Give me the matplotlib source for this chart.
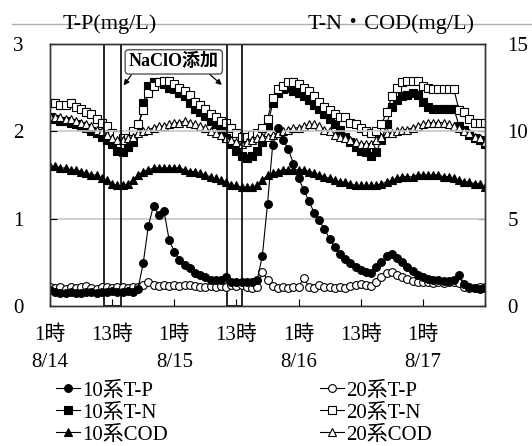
import matplotlib.pyplot as plt
import numpy as np
from matplotlib.lines import Line2D

plt.rcParams['font.family'] = ['Liberation Serif', 'Noto Sans CJK JP']

# hourly samples, 8/14 1:00 -> 8/17 13:00
hours = np.arange(85)

tp10 = [0.18, 0.16, 0.15, 0.15, 0.16, 0.15, 0.15, 0.16, 0.16, 0.15, 0.16, 0.16, 0.17, 0.16, 0.16, 0.17, 0.16, 0.2,
        0.49, 0.92, 1.15, 1.04, 1.09, 0.76, 0.62, 0.53, 0.47, 0.43, 0.38, 0.35, 0.33,
        0.30, 0.30, 0.30, 0.33, 0.28, 0.27, 0.27, 0.27, 0.28, 0.30, 0.57, 1.17, 1.84,
        2.04, 1.9, 1.8, 1.63, 1.46, 1.33, 1.2, 1.07, 0.98, 0.88, 0.77, 0.67, 0.6, 0.54, 0.49, 0.45, 0.41, 0.39, 0.38, 0.45,
        0.5, 0.57, 0.6, 0.55, 0.5, 0.45, 0.4, 0.36, 0.33, 0.31, 0.3, 0.3, 0.29, 0.29, 0.3, 0.35, 0.25, 0.22, 0.21, 0.2, 0.21]
tp20 = [0.22, 0.21, 0.22, 0.2, 0.22, 0.21, 0.22, 0.23, 0.21, 0.2, 0.22, 0.22, 0.21, 0.22, 0.22, 0.21, 0.22, 0.22,
        0.24, 0.27, 0.24, 0.23, 0.24, 0.23, 0.24, 0.23, 0.24, 0.24, 0.23, 0.22, 0.22, 0.23, 0.22, 0.23, 0.22, 0.24,
        0.23, 0.24, 0.22, 0.21, 0.22, 0.39, 0.3, 0.23, 0.21, 0.22, 0.21, 0.22, 0.22, 0.32, 0.22, 0.21, 0.24, 0.22,
        0.22, 0.21, 0.22, 0.21, 0.23, 0.24, 0.25, 0.24, 0.23, 0.27, 0.33, 0.38, 0.39, 0.35, 0.33, 0.31, 0.29, 0.28,
        0.27, 0.27, 0.26, 0.27, 0.26, 0.27, 0.27, 0.26, 0.22, 0.21, 0.21, 0.22, 0.22]
tn10 = [10.8, 10.7, 10.6, 10.6, 10.5, 10.4, 10.3, 10.2, 10.0, 9.9, 9.7, 9.5, 9.3, 8.9, 8.8, 9.1, 9.4, 10.0,
        11.6, 12.6, 12.8, 12.8, 12.7, 12.5, 12.4, 12.2, 12.0, 11.6, 11.3, 11.1, 10.9, 10.6, 10.4, 10.1, 9.6, 9.3,
        8.9, 8.6, 8.5, 8.6, 8.9, 9.4, 10.3, 11.6, 12.2, 12.4, 12.5, 12.3, 12.2, 12.0, 11.8, 11.5, 11.3, 11.0,
        10.7, 10.4, 10.1, 9.7, 9.4, 9.1, 8.9, 8.8, 8.6, 8.8, 9.5, 10.4, 11.4, 11.8, 12.0, 12.1, 12.2, 12.1,
        11.7, 11.4, 11.3, 11.3, 11.3, 11.3, 11.3, 10.3, 10.1, 9.8, 9.6, 9.5, 9.3]
tn20 = [11.6, 11.6, 11.5, 11.5, 11.6, 11.4, 11.3, 11.1, 11.0, 10.7, 10.5, 10.3, 9.9, 9.8, 9.6, 9.6, 10.0, 10.4,
        11.2, 12.2, 12.6, 12.8, 12.9, 12.9, 12.7, 12.5, 12.3, 12.1, 11.7, 11.5, 11.3, 11.0, 10.8, 10.6, 10.5, 10.2,
        9.9, 9.7, 9.7, 9.8, 9.9, 10.2, 10.7, 11.9, 12.4, 12.6, 12.8, 12.8, 12.7, 12.5, 12.3, 12.0, 11.7, 11.4,
        11.2, 11.0, 10.8, 10.8, 10.5, 10.4, 10.2, 10.0, 9.9, 10.0, 10.4, 11.1, 12.0, 12.5, 12.8, 12.9, 12.9, 12.9,
        12.6, 12.5, 12.4, 12.4, 12.4, 12.4, 12.4, 11.2, 11.1, 10.7, 10.5, 10.5, 10.5]
cod10 = [8.0, 8.0, 7.9, 7.9, 7.8, 7.8, 7.7, 7.6, 7.5, 7.5, 7.3, 7.2, 7.0, 6.9, 6.9, 7.0, 7.2, 7.5,
         7.7, 7.8, 7.9, 7.9, 7.9, 7.9, 7.9, 7.9, 7.8, 7.7, 7.7, 7.6, 7.5, 7.4, 7.3, 7.2, 7.1, 6.9,
         6.9, 6.8, 6.8, 6.8, 6.9, 7.2, 7.5, 7.6, 7.7, 7.8, 7.8, 7.8, 7.8, 7.8, 7.7, 7.6, 7.5, 7.4,
         7.3, 7.2, 7.1, 7.1, 7.0, 6.9, 6.9, 6.9, 6.9, 6.9, 7.0, 7.1, 7.2, 7.3, 7.4, 7.4, 7.4, 7.5,
         7.5, 7.5, 7.5, 7.5, 7.4, 7.4, 7.3, 7.2, 7.1, 7.1, 7.0, 7.0, 6.8]
cod20 = [10.9, 10.8, 10.8, 10.7, 10.7, 10.6, 10.5, 10.4, 10.3, 10.1, 10.0, 9.8, 9.6, 9.5, 9.5, 9.6, 9.7, 9.9,
         10.0, 10.1, 10.2, 10.3, 10.3, 10.4, 10.5, 10.5, 10.6, 10.5, 10.4, 10.3, 10.2, 10.0, 9.9, 9.8, 9.6, 9.5,
         9.4, 9.3, 9.4, 9.5, 9.6, 9.7, 9.7, 9.8, 9.9, 10.0, 10.1, 10.2, 10.2, 10.3, 10.4, 10.4, 10.3, 10.1,
         10.0, 9.8, 9.7, 9.6, 9.5, 9.4, 9.3, 9.3, 9.3, 9.5, 9.7, 9.9, 9.9, 10.0, 10.1, 10.1, 10.2, 10.3,
         10.4, 10.5, 10.5, 10.5, 10.5, 10.4, 10.3, 10.2, 10.0, 9.9, 9.7, 9.6, 9.4]

tick_hours = [0, 12, 24, 36, 48, 60, 72, 84]
tick_labels = ['1時\n8/14', '13時', '1時\n8/15', '13時', '1時\n8/16', '13時', '1時\n8/17', '']
dose_periods = [(10.5, 13.7), (34.1, 37.1)]

fig = plt.figure(figsize=(5.32, 4.46), dpi=100)
axl = fig.add_axes([50 / 532, 1 - 306 / 446, 435 / 532, 262 / 446])
axr = axl.twinx()
axl.set_zorder(axr.get_zorder() + 1)
axl.patch.set_visible(False)

lw = 0.8
ms = 5.6
l_tn10, = axr.plot(hours, tn10, '-s', color='black', mfc='black', mec='black', ms=ms, lw=lw, mew=0.8)
l_tn20, = axr.plot(hours, tn20, '-s', color='black', mfc='white', mec='black', ms=ms, lw=lw, mew=0.8)
l_cod10, = axr.plot(hours, cod10, '-^', color='black', mfc='black', mec='black', ms=ms, lw=lw, mew=0.8)
l_cod20, = axr.plot(hours, cod20, '-^', color='black', mfc='white', mec='black', ms=ms, lw=lw, mew=0.8)
l_tp20, = axl.plot(hours, tp20, '-o', color='black', mfc='white', mec='black', ms=ms, lw=lw, mew=0.8)
l_tp10, = axl.plot(hours, tp10, '-o', color='black', mfc='black', mec='black', ms=ms, lw=lw, mew=0.8)

for v in [1, 2]:
    axl.axhline(v, color='#c8c8c8', lw=1.2, zorder=0)

for a, b in dose_periods:
    axl.axvspan(a, b, fill=False, edgecolor='black', lw=1.2, zorder=1)

axl.set_xlim(0, 84)
axl.set_ylim(0, 3)
axr.set_ylim(0, 15)
axl.set_yticks([0, 1, 2, 3])
axr.set_yticks([0, 5, 10, 15])
axl.set_xticks(tick_hours)
axl.set_xticklabels(tick_labels, linespacing=1.6)
axl.tick_params(axis='x', direction='in', length=5, pad=14, labelsize=15)
axl.tick_params(axis='y', direction='in', length=5, pad=19, labelsize=15)
axr.tick_params(axis='y', direction='in', length=5, pad=16, labelsize=15)
for ax in (axl, axr):
    for s in ax.spines.values():
        s.set_color('#333333')
        s.set_linewidth(1.0)

# NaClO annotation
axl.text(23.9, 2.795, 'NaClO添加', ha='center', va='center', fontsize=13, fontweight='bold',
         bbox=dict(boxstyle='round,pad=0.2', fc='white', ec='#555555', lw=1.0), zorder=5)
axl.annotate('', xy=(13.9, 2.5), xytext=(16.0, 2.67),
             arrowprops=dict(arrowstyle='-|>', color='black', lw=0.9, mutation_scale=8), zorder=5)
axl.annotate('', xy=(33.6, 2.51), xytext=(30.5, 2.67),
             arrowprops=dict(arrowstyle='-|>', color='black', lw=0.9, mutation_scale=8), zorder=5)

# header line and axis titles
fig.add_artist(Line2D([12 / 532, 1.0], [1 - 24 / 446, 1 - 24 / 446], transform=fig.transFigure,
                      color='#b0b0b0', lw=1.0))
fig.text(110 / 532, 1 - 24 / 446, 'T-P(mg/L)', ha='center', va='center', fontsize=16)
fig.text(391 / 532, 1 - 24 / 446, 'T-N・COD(mg/L)', ha='center', va='center', fontsize=16)

leg_kw = dict(loc='upper left', frameon=False, fontsize=15, borderpad=0, borderaxespad=0,
              handlelength=1.15, handletextpad=0.1, labelspacing=0.12)
leg1 = fig.legend([l_tp10, l_tn10, l_cod10], ['10系T-P', '10系T-N', '10系COD'],
                  bbox_to_anchor=(56 / 532, 1 - 381 / 446), **leg_kw)
leg2 = fig.legend([l_tp20, l_tn20, l_cod20], ['20系T-P', '20系T-N', '20系COD'],
                  bbox_to_anchor=(320 / 532, 1 - 381 / 446), **leg_kw)

fig.savefig('out.png', dpi=100)
